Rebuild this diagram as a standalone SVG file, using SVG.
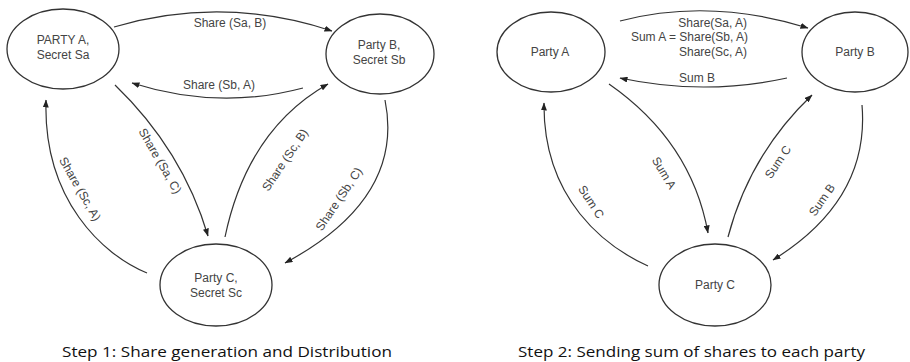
<svg xmlns="http://www.w3.org/2000/svg" width="910" height="362" viewBox="0 0 910 362">
<style>
.n{fill:none;stroke:#333;stroke-width:1.3}
.c{fill:none;stroke:#333;stroke-width:1.2}
.t{font-family:"Liberation Sans",Arial,sans-serif;font-size:12px;fill:#444;text-anchor:middle}
.e{text-anchor:end}
.cap{font-family:"Open Sans","Liberation Sans",sans-serif;font-size:15px;fill:#111}
</style>
<defs>
<marker id="ah" markerUnits="userSpaceOnUse" markerWidth="8" markerHeight="6" refX="7.5" refY="3" orient="auto">
<path d="M0,0 L8,3 L0,6 z" fill="#222"/>
</marker>
</defs>
<rect width="910" height="362" fill="#fff"/>
<g id="connectors">
<path class="c" marker-end="url(#ah)" d="M114,27 Q223,-5 332,31"/>
<path class="c" marker-end="url(#ah)" d="M303,88 Q218.5,110.5 132,83"/>
<path class="c" marker-end="url(#ah)" d="M115,85 Q182.5,150 208,236"/>
<path class="c" marker-end="url(#ah)" d="M147,273 C103,255 43,200 46,100"/>
<path class="c" marker-end="url(#ah)" d="M225,237 Q247.5,129.5 328,84"/>
<path class="c" marker-end="url(#ah)" d="M385,100 Q405,198.5 285,263"/>
<path class="c" marker-end="url(#ah)" d="M620,21 Q710,-2.5 808,28"/>
<path class="c" marker-end="url(#ah)" d="M787,78 Q703.5,96 620,78"/>
<path class="c" marker-end="url(#ah)" d="M609,84 Q691.5,141.5 708,233"/>
<path class="c" marker-end="url(#ah)" d="M648,266 C606,247 543,200 544,103"/>
<path class="c" marker-end="url(#ah)" d="M728,237 Q750,154 812,95"/>
<path class="c" marker-end="url(#ah)" d="M862,105 Q870,200 773,260"/>
<text class="t" x="230" y="27">Share (Sa, B)</text>
<text class="t" x="219" y="89">Share (Sb, A)</text>
<text class="t" transform="translate(160,161) rotate(60)" y="4">Share (Sa, C)</text>
<text class="t" transform="translate(80,189) rotate(60)" y="4">Share (Sc, A)</text>
<text class="t" transform="translate(285,160) rotate(-56)" y="4">Share (Sc, B)</text>
<text class="t" transform="translate(339,199) rotate(-56)" y="4">Share (Sb, C)</text>
<text class="t e" x="747" y="27">Share(Sa, A)</text>
<text class="t e" x="748" y="41">Sum A = Share(Sb, A)</text>
<text class="t e" x="747" y="56">Share(Sc, A)</text>
<text class="t" x="697" y="82">Sum B</text>
<text class="t" transform="translate(664,173) rotate(59)" y="4">Sum A</text>
<text class="t" transform="translate(591,202) rotate(57)" y="4">Sum C</text>
<text class="t" transform="translate(778,162) rotate(-56)" y="4">Sum C</text>
<text class="t" transform="translate(822,200) rotate(-55)" y="4">Sum B</text>
</g>
<g id="s1-partyA">
<ellipse class="n" cx="63" cy="49" rx="56" ry="40"/>
<text class="t" x="63" y="44">PARTY A,</text>
<text class="t" x="63" y="59">Secret Sa</text>
</g>
<g id="s1-partyB">
<ellipse class="n" cx="380" cy="54" rx="54" ry="40"/>
<text class="t" x="379" y="49">Party B,</text>
<text class="t" x="379" y="64">Secret Sb</text>
</g>
<g id="s1-partyC">
<ellipse class="n" cx="216" cy="285" rx="56" ry="41"/>
<text class="t" x="216" y="282">Party C,</text>
<text class="t" x="216" y="297">Secret Sc</text>
</g>
<g id="s2-partyA">
<ellipse class="n" cx="551" cy="52" rx="54" ry="40"/>
<text class="t" x="550" y="56">Party A</text>
</g>
<g id="s2-partyB">
<ellipse class="n" cx="855" cy="52" rx="53" ry="40"/>
<text class="t" x="855" y="56">Party B</text>
</g>
<g id="s2-partyC">
<ellipse class="n" cx="715" cy="285" rx="56" ry="41"/>
<text class="t" x="715" y="289">Party C</text>
</g>
<g id="captions">
<text class="cap" x="62" y="357" textLength="330" lengthAdjust="spacingAndGlyphs">Step 1: Share generation and Distribution</text>
<text class="cap" x="518" y="357" textLength="347" lengthAdjust="spacingAndGlyphs">Step 2: Sending sum of shares to each party</text>
</g>
</svg>
